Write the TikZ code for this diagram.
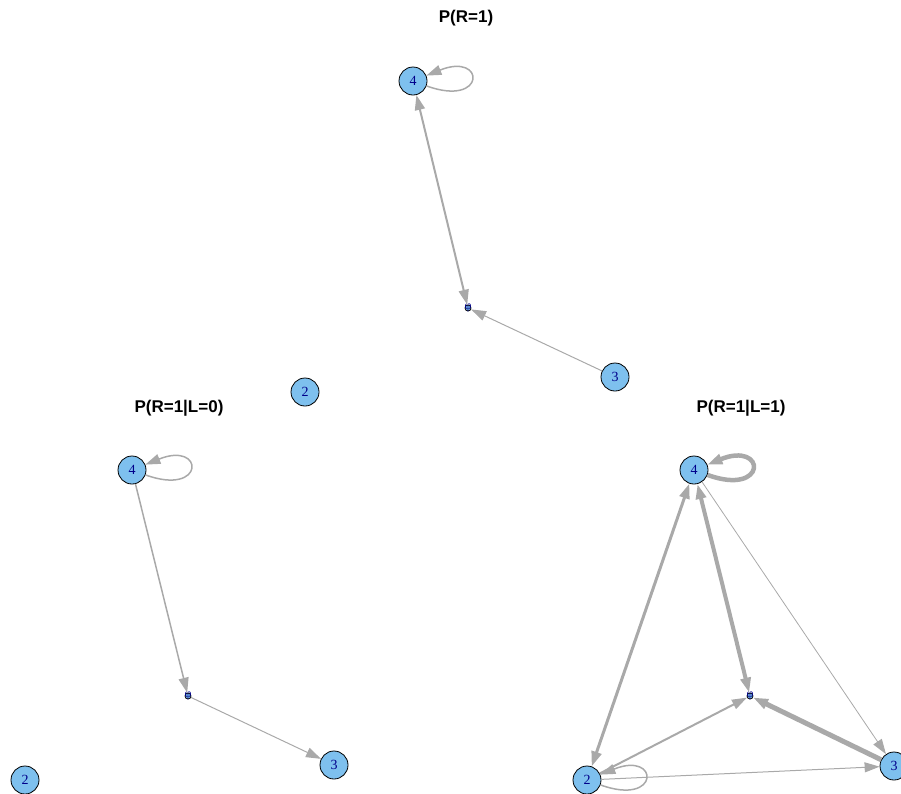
\documentclass[tikz,border=0pt]{standalone}
\usepackage{fontspec}
\setmainfont{Liberation Serif}
\newfontfamily\titlefont{Liberation Sans}
\usepackage{tikz}
\usetikzlibrary{arrows.meta}
\definecolor{vfill}{HTML}{7EC0EE}
\definecolor{vlabel}{HTML}{00008B}
\definecolor{egray}{HTML}{A9A9A9}
\newcommand{\philabel}{\smash{\makebox[0pt]{\raisebox{-0.35ex}{φ}}}}

\begin{document}
\begin{tikzpicture}[x=1pt,y=-1pt]
\tikzstyle{vert}=[circle,draw=black,line width=0.8pt,fill=vfill,text=vlabel,minimum size=28pt,inner sep=0pt,font=\fontsize{14}{14}\selectfont]
\tikzstyle{phinode}=[circle,draw=black,line width=0.8pt,fill=vfill,text=vlabel,minimum size=6pt,inner sep=0pt,font=\fontsize{12}{12}\selectfont]
\tikzstyle{plotitle}=[font=\titlefont\bfseries\fontsize{17}{17}\selectfont]
\tikzstyle{link}=[draw=egray,-{Triangle[length=15pt,width=10pt]}]
\tikzstyle{twoway}=[draw=egray,{Triangle[length=15pt,width=10pt]}-{Triangle[length=15pt,width=10pt]}]
\useasboundingbox (0,0) rectangle (901,793);
% P(R=1)
\node[plotitle] (ttitle) at (466,18) {P(R=1)};
\node[vert] (t4) at (413,81) {4};
\node[phinode] (tphi) at (468,308) {\philabel};
\node[vert] (t3) at (615,377) {3};
\node[vert] (t2) at (305,392) {2};
\draw[twoway,line width=2pt] (t4) -- (tphi);
\draw[link,line width=1pt] (t3) -- (tphi);
\draw[link,line width=1.5pt] (t4) to[out=-20,in=22,min distance=64pt] (t4);
% P(R=1|L=0)
\node[plotitle] (ltitle) at (179,408) {P(R=1|L=0)};
\node[vert] (l4) at (132,470) {4};
\node[phinode] (lphi) at (188,696) {\philabel};
\node[vert] (l3) at (334,765) {3};
\node[vert] (l2) at (25,780) {2};
\draw[link,line width=1.5pt] (l4) -- (lphi);
\draw[link,line width=1pt] (lphi) -- (l3);
\draw[link,line width=1.5pt] (l4) to[out=-20,in=22,min distance=64pt] (l4);
% P(R=1|L=1)
\node[plotitle] (rtitle) at (741,408) {P(R=1|L=1)};
\node[vert] (r4) at (694,470) {4};
\node[phinode] (rphi) at (750,696) {\philabel};
\node[vert] (r3) at (894,766) {3};
\node[vert] (r2) at (587,780) {2};
\draw[twoway,line width=3pt] (r2) -- (r4);
\draw[twoway,line width=4pt] (r4) -- (rphi);
\draw[link,line width=5pt] (r3) -- (rphi);
\draw[link,line width=0.8pt] (r4) -- (r3);
\draw[link,line width=2pt] (r2) -- (rphi);
\draw[link,line width=1pt] (r2) -- (r3);
\draw[link,line width=4.5pt] (r4) to[out=-20,in=22,min distance=64pt] (r4);
\draw[link,line width=1.5pt] (r2) to[out=-20,in=22,min distance=64pt] (r2);
\end{tikzpicture}
\end{document}
